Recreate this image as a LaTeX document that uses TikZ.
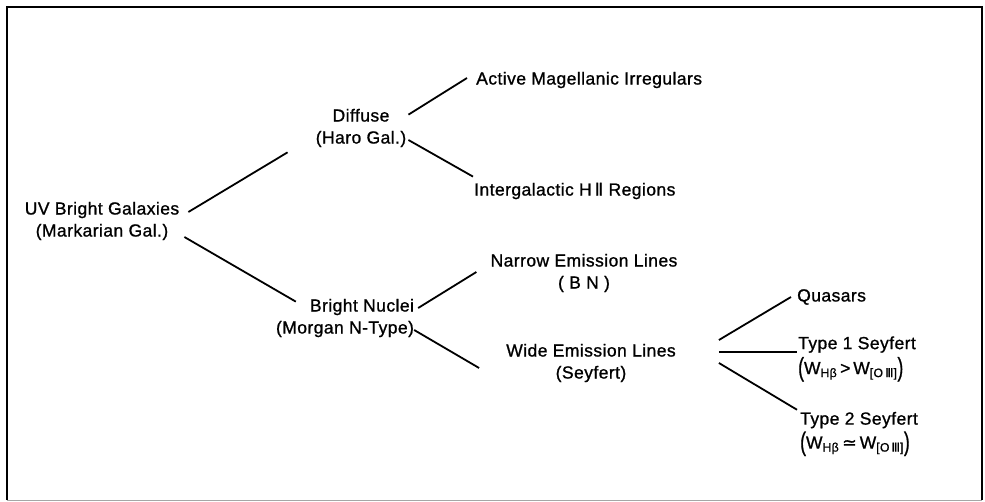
\documentclass[tikz,border=0pt]{standalone}
\usepackage{fontspec}
\setmainfont{Liberation Sans}[LetterSpace=2.5, FakeBold=1.0]
\newfontfamily\numfont{DejaVu Sans}[FakeBold=0.8]
\usepackage{tikz}
\newcommand{\tallparen}[1]{\raisebox{-2pt}{\scalebox{1}[1.5]{#1}}}

\begin{document}
\begin{tikzpicture}[x=1pt, y=-1pt,
    txt/.style={inner sep=0pt, font=\fontsize{17.5pt}{22pt}\selectfont},
    branch/.style={line width=1.8pt}]
    \useasboundingbox (0,0) rectangle (985,502);
    \draw[line width=1.8pt] (7,500) -- (7,7) -- (982,7) -- (982,500);
    \draw[line width=0.8pt, black!35] (7,500) -- (982,500);

    \node[txt, align=center] (uv) at (102,221) {UV Bright Galaxies\\(Markarian Gal.)};
    \node[txt, align=center] (diffuse) at (361,128) {Diffuse\\(Haro Gal.)};
    \node[txt, align=right] (bright) at (345,318) {Bright Nuclei\\(Morgan N-Type)};
    \node[txt, anchor=west] (active) at (476,80) {Active Magellanic Irregulars};
    \node[txt, anchor=west] (inter) at (474,191) {Intergalactic H\,{\numfont Ⅱ} Regions};
    \node[txt, align=center] (narrow) at (584,273) {Narrow Emission Lines\\( B N )};
    \node[txt, align=center] (wide) at (591,363) {Wide Emission Lines\\(Seyfert)};
    \node[txt, anchor=west] (quasars) at (797,297) {Quasars};
    \node[txt, anchor=west, align=left] (typeone) at (798,359)
        {Type 1 Seyfert\\[3pt]\tallparen{(}W\textsubscript{Hβ}\,>\,W\textsubscript{[O\,{\numfont Ⅲ}]}\tallparen{)}};
    \node[txt, anchor=west, align=left] (typetwo) at (800,434)
        {Type 2 Seyfert\\[2pt]\tallparen{(}W\textsubscript{Hβ}\,{\numfont ≃}\,W\textsubscript{[O\,{\numfont Ⅲ}]}\tallparen{)}};

    % first split
    \draw[branch] ([xshift=9pt,yshift=9pt]uv.east) -- ([xshift=-28pt,yshift=-5pt]diffuse.south west);
    \draw[branch] ([xshift=5pt,yshift=-16pt]uv.east) -- ([xshift=20pt,yshift=-3pt]bright.north west);
    % diffuse
    \draw[branch] ([xshift=2pt,yshift=-6pt]diffuse.north east) -- ([xshift=-9pt,yshift=2pt]active.west);
    \draw[branch] ([xshift=2pt,yshift=-12pt]diffuse.east) -- ([xshift=-1pt,yshift=6pt]inter.north west);
    % bright nuclei
    \draw[branch] ([xshift=4pt,yshift=10pt]bright.east) -- ([xshift=-14pt,yshift=1pt]narrow.west);
    \draw[branch] ([yshift=-12pt]bright.east) -- ([xshift=-27pt,yshift=-5pt]wide.west);
    % wide emission lines
    \draw[branch] ([xshift=43pt,yshift=23pt]wide.east) -- ([xshift=-6pt]quasars.west);
    \draw[branch] ([xshift=43pt,yshift=11pt]wide.east) -- ([xshift=-1pt,yshift=7pt]typeone.west);
    \draw[branch] ([xshift=43pt]wide.east) -- ([xshift=-3pt,yshift=2pt]typetwo.north west);
\end{tikzpicture}
\end{document}
